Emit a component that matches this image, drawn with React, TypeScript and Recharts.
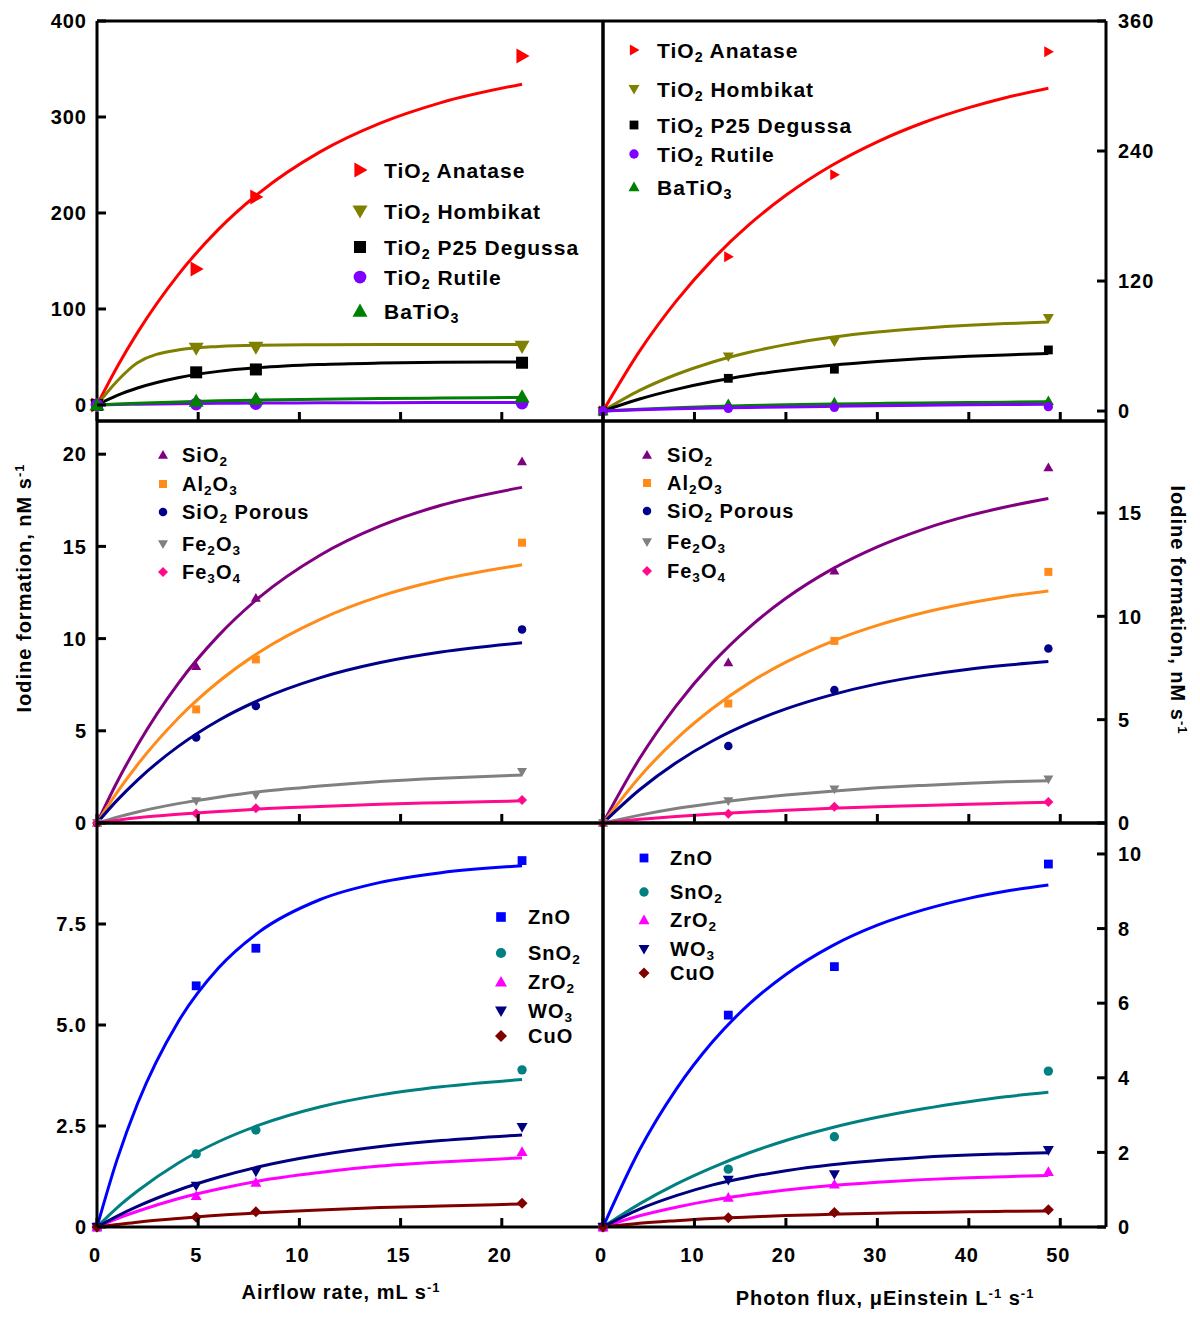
import React from 'react';
import { ComposedChart, Line, Scatter, XAxis, YAxis, ReferenceLine } from 'recharts';

const FONT = '"Liberation Sans", Arial, Helvetica, sans-serif';

// ---------- x positions ----------
const airX = [0, 4.9, 7.85, 21];
const photonX = [0, 13.7, 25.3, 48.7];
const airFitX = [0, 1, 2, 4, 6, 8, 11, 14, 17, 21];
const photonFitX = [0, 4, 8, 12, 16, 20, 25, 30, 35, 40, 44, 48.7];

const airTicks = [0, 5, 10, 15, 20];
const photonTicks = [0, 10, 20, 30, 40, 50];

// ---------- row 1 : TiO2 family ----------
const tiNames = ['TiO{2} Anatase', 'TiO{2} Hombikat', 'TiO{2} P25 Degussa', 'TiO{2} Rutile', 'BaTiO{3}'];
const tiColors = ['#ff0000', '#808000', '#000000', '#8000ff', '#008000'];
const tiShapes = ['tri-right', 'tri-down', 'square', 'circle', 'tri-up'];

const anataseAir = [0, 141.7, 216.7, 363.5];
const hombikatAir = [0, 59, 60, 61];
const p25Air = [0, 34, 37, 44];
const rutileAir = [0, 1, 1.5, 2];
const batio3Air = [0, 4, 6, 8.5];
const anataseAirFit = [0, 39.9, 75.4, 135.3, 182.9, 220.7, 263.4, 293.6, 315.0, 334.2];
const hombikatAirFit = [0, 25, 44, 57.3, 61, 62.3, 62.7, 62.9, 63, 63];
const p25AirFit = [0, 10, 17.7, 28.4, 35, 38.9, 42.1, 43.6, 44.4, 44.8];
const rutileAirFit = [0, 0.4, 0.8, 1.3, 1.7, 2, 2.2, 2.4, 2.5, 2.6];
const batio3AirFit = [0, 0.9, 1.8, 3.2, 4.3, 5.1, 6, 6.7, 7.2, 7.8];

const anatasePh = [0, 142.5, 218, 331.6];
const hombikatPh = [0, 50.3, 64.1, 85.8];
const p25Ph = [0, 30.2, 38.6, 56.4];
const rutilePh = [0, 2.5, 3.4, 4];
const batio3Ph = [0, 6.5, 8, 9.3];
const anatasePhFit = [0, 55.3, 101.4, 140, 172.2, 199.1, 226.6, 248.5, 266.1, 280.0, 289.2, 298];
const hombikatPhFit = [0, 19.0, 33.7, 45.3, 54.3, 61.3, 68.0, 72.9, 76.4, 79.1, 80.7, 82.1];
const p25PhFit = [0, 11.1, 20.0, 27.2, 33.0, 37.7, 42.3, 45.8, 48.5, 50.5, 51.8, 53.0];
const rutilePhFit = [0, 1.1, 2, 2.7, 3.3, 3.8, 4.3, 4.8, 5.3, 5.7, 6.0, 6.3];
const batio3PhFit = [0, 1.6, 3, 4.1, 5, 5.7, 6.4, 7, 7.5, 7.9, 8.2, 8.5];

// ---------- row 2 : SiO2 family ----------
const siNames = ['SiO{2}', 'Al{2}O{3}', 'SiO{2} Porous', 'Fe{2}O{3}', 'Fe{3}O{4}'];
const siColors = ['#800080', '#ff8c1a', '#00008b', '#808080', '#ff0a8c'];
const siShapes = ['tri-up', 'square', 'circle', 'tri-down', 'diamond'];

const sio2Air = [0, 8.5, 12.2, 19.6];
const al2o3Air = [0, 6.16, 8.87, 15.2];
const porousAir = [0, 4.64, 6.34, 10.5];
const fe2o3Air = [0, 1.19, 1.52, 2.78];
const fe3o4Air = [0, 0.52, 0.8, 1.25];
const sio2AirFit = [0, 2.24, 4.22, 7.55, 10.16, 12.22, 14.51, 16.11, 17.23, 18.2];
const al2o3AirFit = [0, 1.67, 3.16, 5.67, 7.66, 9.25, 11.03, 12.3, 13.19, 14.0];
const porousAirFit = [0, 1.24, 2.33, 4.14, 5.56, 6.66, 7.87, 8.7, 9.27, 9.77];
const fe2o3AirFit = [0, 0.32, 0.6, 1.05, 1.4, 1.7, 2.0, 2.25, 2.43, 2.6];
const fe3o4AirFit = [0, 0.15, 0.28, 0.47, 0.62, 0.76, 0.9, 1.02, 1.1, 1.2];

const sio2Ph = [0, 7.76, 12.2, 17.2];
const al2o3Ph = [0, 5.78, 8.81, 12.15];
const porousPh = [0, 3.73, 6.43, 8.44];
const fe2o3Ph = [0, 1.07, 1.63, 2.12];
const fe3o4Ph = [0, 0.45, 0.79, 1.02];
const sio2PhFit = [0, 3.12, 5.67, 7.76, 9.47, 10.87, 12.27, 13.36, 14.21, 14.87, 15.29, 15.7];
const al2o3PhFit = [0, 2.23, 4.06, 5.55, 6.78, 7.78, 8.78, 9.56, 10.17, 10.64, 10.95, 11.23];
const porousPhFit = [0, 1.61, 2.92, 3.98, 4.83, 5.52, 6.2, 6.73, 7.13, 7.44, 7.63, 7.81];
const fe2o3PhFit = [0, 0.38, 0.7, 0.95, 1.17, 1.35, 1.54, 1.7, 1.82, 1.92, 1.99, 2.05];
const fe3o4PhFit = [0, 0.18, 0.32, 0.43, 0.53, 0.62, 0.71, 0.79, 0.85, 0.91, 0.95, 1.0];

// ---------- row 3 : ZnO family ----------
const znNames = ['ZnO', 'SnO{2}', 'ZrO{2}', 'WO{3}', 'CuO'];
const znColors = ['#0000ff', '#008080', '#ff00ff', '#000080', '#800000'];
const znShapes = ['square', 'circle', 'tri-up', 'tri-down', 'diamond'];

const znoAir = [0, 5.97, 6.9, 9.07];
const sno2Air = [0, 1.81, 2.4, 3.89];
const zro2Air = [0, 0.77, 1.1, 1.86];
const wo3Air = [0, 1.02, 1.37, 2.47];
const cuoAir = [0, 0.24, 0.38, 0.59];
const znoAirFit = [0, 1.68, 3.05, 5.07, 6.41, 7.3, 8.1, 8.53, 8.77, 8.94];
const sno2AirFit = [0, 0.48, 0.89, 1.58, 2.11, 2.52, 2.97, 3.27, 3.47, 3.65];
const zro2AirFit = [0, 0.21, 0.39, 0.7, 0.94, 1.14, 1.35, 1.51, 1.61, 1.71];
const wo3AirFit = [0, 0.27, 0.51, 0.91, 1.23, 1.49, 1.78, 1.99, 2.14, 2.28];
const cuoAirFit = [0, 0.06, 0.12, 0.21, 0.29, 0.35, 0.42, 0.48, 0.52, 0.57];

const znoPh = [0, 5.68, 6.98, 9.73];
const sno2Ph = [0, 1.55, 2.42, 4.18];
const zro2Ph = [0, 0.79, 1.14, 1.48];
const wo3Ph = [0, 1.26, 1.41, 2.06];
const cuoPh = [0, 0.25, 0.39, 0.46];
const znoPhFit = [0, 2.07, 3.69, 4.97, 5.98, 6.77, 7.53, 8.09, 8.5, 8.81, 9.0, 9.17];
const sno2PhFit = [0, 0.62, 1.15, 1.6, 1.99, 2.32, 2.66, 2.94, 3.17, 3.36, 3.49, 3.61];
const zro2PhFit = [0, 0.3, 0.53, 0.72, 0.87, 0.99, 1.11, 1.2, 1.27, 1.32, 1.35, 1.38];
const wo3PhFit = [0, 0.48, 0.84, 1.13, 1.34, 1.51, 1.67, 1.78, 1.87, 1.93, 1.96, 1.99];
const cuoPhFit = [0, 0.1, 0.17, 0.23, 0.27, 0.31, 0.34, 0.37, 0.39, 0.41, 0.42, 0.43];

// ---------- axis ticks ----------
const y1LeftTicks = [0, 100, 200, 300, 400];
const y1RightTicks = [0, 120, 240, 360];
const y2LeftTicks = [0, 5, 10, 15, 20];
const y2RightTicks = [0, 5, 10, 15];
const y3LeftTicks = [0, 2.5, 5, 7.5];
const y3RightTicks = [0, 2, 4, 6, 8, 10];

// ---------- layout ----------
const COLS = [{ left: 97, right: 603 }, { left: 603, right: 1106 }];
const ROWS = [{ top: 21, bottom: 421 }, { top: 421, bottom: 823 }, { top: 823, bottom: 1227 }];

const tickStyle: any = { fontSize: 20, fontWeight: 700, fontFamily: FONT, fill: '#000', letterSpacing: 1 };

const chem = (s: string) =>
  s.split(/\{([^}]*)\}/).map((part, i) =>
    i % 2 ? (
      <span key={i} style={{ fontSize: '0.68em', position: 'relative', top: '0.3em' }}>{part}</span>
    ) : (
      <React.Fragment key={i}>{part}</React.Fragment>
    )
  );

function Marker({ shape, cx, cy, s, color }: any) {
  if (cx == null || cy == null) return null;
  const h = s / 2;
  if (shape === 'circle') return <circle cx={cx} cy={cy} r={h * 0.85} fill={color} />;
  if (shape === 'square') return <rect x={cx - h * 0.8} y={cy - h * 0.8} width={s * 0.8} height={s * 0.8} fill={color} />;
  let d = '';
  if (shape === 'tri-up') d = `M${cx},${cy - h} L${cx + h},${cy + h * 0.75} L${cx - h},${cy + h * 0.75} Z`;
  if (shape === 'tri-down') d = `M${cx - h},${cy - h * 0.75} L${cx + h},${cy - h * 0.75} L${cx},${cy + h} Z`;
  if (shape === 'tri-right') d = `M${cx - h * 0.75},${cy - h} L${cx + h},${cy} L${cx - h * 0.75},${cy + h} Z`;
  if (shape === 'diamond') d = `M${cx},${cy - h} L${cx + h},${cy} L${cx},${cy + h} L${cx - h},${cy} Z`;
  return <path d={d} fill={color} />;
}

const toPts = (xs: number[], ys: number[]) => xs.map((x, i) => ({ x, y: ys[i] }));

const makeXTick = (showLabel: boolean) => (p: any) => (
  <g>
    <line x1={p.x} x2={p.x} y1={p.y} y2={p.y - 9} stroke="#000" strokeWidth={3} />
    {showLabel && (
      <text x={p.x - 2} y={p.y + 35} textAnchor="middle" style={tickStyle}>
        {p.payload.value}
      </text>
    )}
  </g>
);

const makeYTick = (side: string, fmt: (v: number) => string) => (p: any) => (
  <g>
    <line x1={p.x} x2={p.x + (side === 'left' ? 9 : -9)} y1={p.y} y2={p.y} stroke="#000" strokeWidth={3} />
    <text
      x={side === 'left' ? p.x - 10 : p.x + 12}
      y={p.y}
      dy="0.36em"
      textAnchor={side === 'left' ? 'end' : 'start'}
      style={tickStyle}
    >
      {fmt(p.payload.value)}
    </text>
  </g>
);

function Panel({ col, row, series, xDomain, xTicks, yDomain, yTicks, yFmt, showX, mSize }: any) {
  const c = COLS[col];
  const r = ROWS[row];
  const isLeft = col === 0;
  const plotW = c.right - c.left;
  const plotH = r.bottom - r.top;
  const padT = 12;
  const axisH = showX ? 70 : 10;
  const yAxisW = isLeft ? c.left : 1200 - c.right;
  const padL = isLeft ? yAxisW : 10;
  const padR = isLeft ? 10 : yAxisW;
  const width = plotW + padL + padR;
  const height = plotH + padT + axisH;
  const fmt = yFmt || ((v: number) => String(v));
  return (
    <div style={{ position: 'absolute', left: c.left - padL, top: r.top - padT, width, height }}>
      <ComposedChart
        width={width}
        height={height}
        margin={{ top: padT, right: isLeft ? 10 : 0, bottom: 0, left: isLeft ? 0 : 10 }}
      >
        <XAxis
          type="number"
          dataKey="x"
          domain={xDomain}
          ticks={xTicks}
          interval={0}
          height={axisH}
          axisLine={{ stroke: '#000', strokeWidth: 3 }}
          tickLine={false}
          tickSize={0}
          tickMargin={0}
          tick={makeXTick(showX)}
        />
        <YAxis
          type="number"
          dataKey="y"
          orientation={isLeft ? 'left' : 'right'}
          width={yAxisW}
          domain={yDomain}
          ticks={yTicks}
          interval={0}
          axisLine={{ stroke: '#000', strokeWidth: 3 }}
          tickLine={false}
          tickSize={0}
          tickMargin={0}
          tick={makeYTick(isLeft ? 'left' : 'right', fmt)}
        />
        <ReferenceLine y={yDomain[1]} stroke="#000" strokeWidth={3} />
        <ReferenceLine x={isLeft ? xDomain[1] : xDomain[0]} stroke="#000" strokeWidth={3} />
        {series.map((s: any, i: number) => (
          <Line
            key={'l' + i}
            data={toPts(s.fitX, s.fitY)}
            dataKey="y"
            type="monotone"
            stroke={s.color}
            strokeWidth={3}
            dot={false}
            activeDot={false}
            isAnimationActive={false}
          />
        ))}
        {series.map((s: any, i: number) => (
          <Scatter
            key={'s' + i}
            data={toPts(s.x, s.y)}
            dataKey="y"
            fill={s.color}
            isAnimationActive={false}
            shape={(p: any) => <Marker shape={s.shape} cx={p.cx} cy={p.cy} s={mSize} color={s.color} />}
          />
        ))}
      </ComposedChart>
    </div>
  );
}

function LegendBox({ names, colors, shapes, mx, tx, ys, fontSize, mSize }: any) {
  return (
    <>
      {names.map((n: string, i: number) => (
        <React.Fragment key={i}>
          <svg style={{ position: 'absolute', left: mx - 12, top: ys[i] - 12 }} width={24} height={24}>
            <Marker shape={shapes[i]} cx={12} cy={12} s={mSize} color={colors[i]} />
          </svg>
          <div
            style={{
              position: 'absolute',
              left: tx,
              top: ys[i],
              transform: 'translateY(-50%)',
              fontSize,
              fontWeight: 700,
              fontFamily: FONT,
              whiteSpace: 'nowrap',
              letterSpacing: 1,
              lineHeight: 1,
              color: '#000',
            }}
          >
            {chem(n)}
          </div>
        </React.Fragment>
      ))}
    </>
  );
}

const sup = (t: string) => (
  <span style={{ fontSize: '0.65em', position: 'relative', top: '-0.55em' }}>{t}</span>
);

const titleStyle: any = {
  position: 'absolute',
  fontSize: 20,
  fontWeight: 700,
  fontFamily: FONT,
  whiteSpace: 'nowrap',
  letterSpacing: 1,
  lineHeight: 1,
  color: '#000',
};

const build = (colors: string[], shapes: string[], xs: number[], fitX: number[], ys: number[][], fits: number[][]) =>
  colors.map((color, i) => ({ color, shape: shapes[i], x: xs, y: ys[i], fitX, fitY: fits[i] }));

export default function App() {
  const row1L = build(tiColors, tiShapes, airX, airFitX,
    [anataseAir, hombikatAir, p25Air, rutileAir, batio3Air],
    [anataseAirFit, hombikatAirFit, p25AirFit, rutileAirFit, batio3AirFit]);
  const row1R = build(tiColors, tiShapes, photonX, photonFitX,
    [anatasePh, hombikatPh, p25Ph, rutilePh, batio3Ph],
    [anatasePhFit, hombikatPhFit, p25PhFit, rutilePhFit, batio3PhFit]);
  // draw BaTiO3 under Rutile in the right panel (rutile curve on top)
  const row1Rordered = [row1R[0], row1R[1], row1R[2], row1R[4], row1R[3]];
  const row2L = build(siColors, siShapes, airX, airFitX,
    [sio2Air, al2o3Air, porousAir, fe2o3Air, fe3o4Air],
    [sio2AirFit, al2o3AirFit, porousAirFit, fe2o3AirFit, fe3o4AirFit]);
  const row2R = build(siColors, siShapes, photonX, photonFitX,
    [sio2Ph, al2o3Ph, porousPh, fe2o3Ph, fe3o4Ph],
    [sio2PhFit, al2o3PhFit, porousPhFit, fe2o3PhFit, fe3o4PhFit]);
  const row3L = build(znColors, znShapes, airX, airFitX,
    [znoAir, sno2Air, zro2Air, wo3Air, cuoAir],
    [znoAirFit, sno2AirFit, zro2AirFit, wo3AirFit, cuoAirFit]);
  const row3R = build(znColors, znShapes, photonX, photonFitX,
    [znoPh, sno2Ph, zro2Ph, wo3Ph, cuoPh],
    [znoPhFit, sno2PhFit, zro2PhFit, wo3PhFit, cuoPhFit]);

  return (
    <div style={{ position: 'absolute', left: 0, top: 0, width: 1200, height: 1321, background: '#fff', fontFamily: FONT }}>
      <Panel col={0} row={0} series={row1L} xDomain={[0, 25]} xTicks={airTicks} yDomain={[-16.7, 400]} yTicks={y1LeftTicks} showX={false} mSize={15} />
      <Panel col={1} row={0} series={row1Rordered} xDomain={[0, 55]} xTicks={photonTicks} yDomain={[-9.2, 360]} yTicks={y1RightTicks} showX={false} mSize={11} />
      <Panel col={0} row={1} series={row2L} xDomain={[0, 25]} xTicks={airTicks} yDomain={[0, 21.8]} yTicks={y2LeftTicks} showX={false} mSize={10} />
      <Panel col={1} row={1} series={row2R} xDomain={[0, 55]} xTicks={photonTicks} yDomain={[0, 19.45]} yTicks={y2RightTicks} showX={false} mSize={10} />
      <Panel col={0} row={2} series={row3L} xDomain={[0, 25]} xTicks={airTicks} yDomain={[0, 10]} yTicks={y3LeftTicks} yFmt={(v: number) => (v === 0 ? '0' : v.toFixed(1))} showX={true} mSize={11} />
      <Panel col={1} row={2} series={row3R} xDomain={[0, 55]} xTicks={photonTicks} yDomain={[0, 10.83]} yTicks={y3RightTicks} showX={true} mSize={11} />

      <LegendBox names={tiNames} colors={tiColors} shapes={tiShapes} mx={360} tx={384} ys={[170, 211, 247, 277, 311]} fontSize={21} mSize={15} />
      <LegendBox names={tiNames} colors={tiColors} shapes={tiShapes} mx={634} tx={657} ys={[50, 89, 125, 154, 187]} fontSize={21} mSize={11} />
      <LegendBox names={siNames} colors={siColors} shapes={siShapes} mx={163} tx={182} ys={[455, 484, 512, 544, 572]} fontSize={20} mSize={10} />
      <LegendBox names={siNames} colors={siColors} shapes={siShapes} mx={647} tx={667} ys={[455, 483, 511, 542, 571]} fontSize={20} mSize={10} />
      <LegendBox names={znNames} colors={znColors} shapes={znShapes} mx={501} tx={528} ys={[917, 953, 982, 1011, 1036]} fontSize={20} mSize={12} />
      <LegendBox names={znNames} colors={znColors} shapes={znShapes} mx={644} tx={670} ys={[858, 892, 920, 949, 973]} fontSize={20} mSize={11} />

      <div style={{ ...titleStyle, left: 24, top: 588, transform: 'translate(-50%, -50%) rotate(-90deg)' }}>
        Iodine formation, nM s{sup('-1')}
      </div>
      <div style={{ ...titleStyle, left: 1178, top: 610, transform: 'translate(-50%, -50%) rotate(90deg)' }}>
        Iodine formation, nM s{sup('-1')}
      </div>
      <div style={{ ...titleStyle, left: 341, top: 1292, transform: 'translate(-50%, -50%)' }}>
        Airflow rate, mL s{sup('-1')}
      </div>
      <div style={{ ...titleStyle, left: 885, top: 1298, transform: 'translate(-50%, -50%)' }}>
        Photon flux, μEinstein L{sup('-1')} s{sup('-1')}
      </div>
    </div>
  );
}
